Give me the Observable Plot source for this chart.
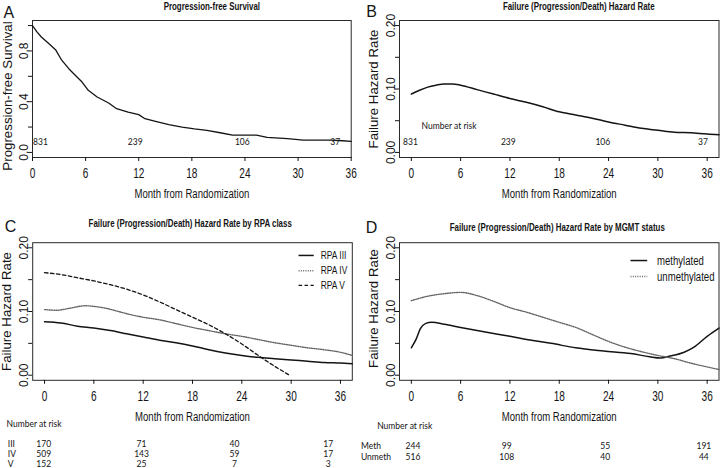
<!DOCTYPE html>
<html><head><meta charset="utf-8">
<script src="https://cdn.jsdelivr.net/npm/d3@7"></script>
<script src="https://cdn.jsdelivr.net/npm/@observablehq/plot@0.6"></script>
<style>
body{margin:0;background:#fff;}
#chart{position:relative;width:720px;height:468px;overflow:hidden;background:#fff;color:#111;}
</style></head><body><div id="chart"></div><script>
// ---------- DATA ----------
const monthTicks = [0, 6, 12, 18, 24, 30, 36];
const survTicks = [0, 0.2, 0.4, 0.6, 0.8, 1.0];
const survTickLabels = ["0.0", "", "0.4", "", "0.8", ""];
const hazTicks = [0, 0.05, 0.10, 0.15, 0.20];
const hazTickLabels = ["0.00", "", "0.10", "", "0.20"];

// Panel A: progression-free survival
const pfsMonth = [0,0.5,1,1.8,2.6,3.3,4.1,4.8,5.6,6.3,7.3,8.6,9.5,10.8,12,12.7,13.9,15.4,16.9,18.3,19.7,21.2,22.6,25.3,26.5,28.8,30.6,33.7,35,36];
const pfsSurv  = [1,0.95,0.91,0.86,0.81,0.727,0.66,0.61,0.555,0.49,0.437,0.39,0.345,0.318,0.298,0.266,0.245,0.219,0.2,0.185,0.174,0.155,0.136,0.136,0.118,0.108,0.097,0.097,0.092,0.087];

// Panel B: overall failure hazard
const hazMonth = [0,1,2,3,4,5,6,8,10,12,14,16,18,20,22,24,26,28,30,32,34,36,37.44];
const hazAll   = [0.092,0.098,0.103,0.106,0.108,0.108,0.106,0.099,0.092,0.085,0.079,0.072,0.064,0.059,0.054,0.048,0.043,0.038,0.035,0.032,0.031,0.029,0.028];

// Panel C: hazard by RPA class
const rpa3Month = [0,2,4,6,8,10,12,14,16,18,20,22,24,26,28,30,32,34,36,37.44];
const rpa3Haz   = [0.084,0.082,0.077,0.074,0.070,0.065,0.060,0.055,0.051,0.046,0.040,0.035,0.031,0.028,0.026,0.024,0.022,0.020,0.019,0.018];
const rpa4Month = [0,1.5,3,5,6,7.5,9,10.5,12,14,16,18,20,22,24,26,28,30,32,34,36,37.44];
const rpa4Haz   = [0.103,0.102,0.105,0.109,0.108,0.105,0.100,0.095,0.091,0.087,0.081,0.075,0.070,0.065,0.061,0.056,0.051,0.047,0.043,0.040,0.036,0.031];
const rpa5Month = [0,2,4,6,8,10,12,14,16,18,20,22,24,26,28,29.8];
const rpa5Haz   = [0.161,0.158,0.153,0.148,0.142,0.135,0.126,0.115,0.103,0.091,0.079,0.065,0.049,0.031,0.014,0];
const rpaNames  = ["RPA III", "RPA IV", "RPA V"];

// Panel D: hazard by MGMT status
const methMonth = [0,0.6,1.1,1.7,2.5,4,6,8.5,12,15,17,20,23.4,26.7,29,30.3,31.5,33.2,34.4,36,37.44];
const methHaz   = [0.043,0.057,0.073,0.081,0.083,0.080,0.075,0.069,0.061,0.054,0.050,0.043,0.038,0.034,0.029,0.027,0.030,0.036,0.044,0.061,0.074];
const unmethMonth = [0,2,4,6,8,10,12,14,16,18,20,22,24,26,28,30,32,34,36,37.44];
const unmethHaz   = [0.117,0.124,0.128,0.130,0.125,0.116,0.106,0.099,0.091,0.083,0.075,0.064,0.053,0.044,0.037,0.031,0.026,0.019,0.013,0.009];
const mgmtNames = ["methylated", "unmethylated"];

// Number at risk
const riskAll   = ["831", "239", "106", "37"];
const riskRPA3  = ["170", "71", "40", "17"];
const riskRPA4  = ["509", "143", "59", "17"];
const riskRPA5  = ["152", "25", "7", "3"];
const riskMeth  = ["244", "99", "55", "191"];
const riskUnmeth= ["516", "108", "40", "44"];
const riskRowsRPA = ["III", "IV", "V"];
const riskRowsMGMT = ["Meth", "Unmeth"];

// ---------- LAYOUT (positions only) ----------
const riskColA = [0.9, 11.6, 23.7, 34.2];
const riskColB = [-0.1, 11.8, 23.3, 35.5];
const riskColC = [-0.1, 11.8, 23.1, 34.5];
const riskColD = [0.2, 11.6, 23.6, 35.6];
const rowDyC = [63.5, 73.5, 83.5];
const rowDyD = [65.9, 76.9];

const NARROW = "'Liberation Sans Narrow','Liberation Sans',Arial,sans-serif";
const NARROW_RATIO = 0.72;
const SANS = "'Liberation Sans',Arial,sans-serif";
const RISK = "Lato,'Open Sans',sans-serif";
const INK = "#141414";

const chart = document.getElementById("chart");
const zip = (xs, ys) => xs.map((x, i) => ({x, y: ys[i]}));

// condensed look: squeeze horizontally the texts set in the "narrow" family
function narrowTexts(svg) {
  svg.querySelectorAll('g[font-family*="Narrow"] text').forEach(t => {
    const tr = t.getAttribute("transform") || "";
    t.setAttribute("transform", `${tr} scale(${NARROW_RATIO},1)`);
  });
}

function panel(cfg) {
  const marks = [
    Plot.frame({stroke: "#2a2a2a", strokeWidth: 1}),
    Plot.axisX({ticks: monthTicks, tickSize: 4, tickPadding: 7, fontFamily: NARROW, fontSize: 14, label: null, stroke: INK}),
    Plot.axisY({ticks: cfg.yTicks, tickSize: 4, tickPadding: 1, tickRotate: -90,
      tickFormat: d => cfg.yTickLabels[cfg.yTicks.indexOf(d)],
      fontFamily: SANS, fontSize: 12, label: null, stroke: INK}),
    Plot.text(["Month from Randomization"], {text: d => d, frameAnchor: "bottom", dy: 36.5, lineAnchor: "middle", fontFamily: NARROW, fontSize: 13.3, fill: INK}),
    Plot.text([cfg.yTitle], {text: d => d, frameAnchor: "left", dx: cfg.yTitleDx, dy: cfg.yTitleDy, rotate: -90, lineAnchor: "middle", textAnchor: "middle", fontFamily: SANS, fontSize: 13.3, fill: INK}),
    Plot.text([cfg.title], {text: d => d, frameAnchor: "top", dx: cfg.titleDx, dy: cfg.titleDy, lineAnchor: "middle", fontFamily: NARROW, fontWeight: "bold", fontSize: 11, fill: INK}),
    Plot.text([cfg.letter], {text: d => d, frameAnchor: "top-left", dx: cfg.letterDx, dy: cfg.letterDy, lineAnchor: "middle", textAnchor: "middle", fontFamily: SANS, fontSize: 16, fill: INK}),
    ...cfg.marks
  ];
  const svg = Plot.plot({
    width: cfg.width, height: cfg.height,
    marginLeft: cfg.ml, marginRight: cfg.mr, marginTop: cfg.mt, marginBottom: cfg.mb,
    x: {domain: cfg.xDomain},
    y: {domain: cfg.yDomain},
    style: {background: "transparent", overflow: "visible", fontFamily: SANS, color: INK},
    marks
  });
  svg.style.position = "absolute";
  svg.style.left = cfg.left + "px";
  svg.style.top = cfg.top + "px";
  chart.appendChild(svg);
  narrowTexts(svg);
}

const solid = {stroke: INK, strokeWidth: 1.5};
const dotted = {stroke: "#666", strokeWidth: 1.4, strokeDasharray: "1,1.3"};
const dashed = {stroke: INK, strokeWidth: 1.3, strokeDasharray: "3.5,2.5"};
const riskStyle = {lineAnchor: "middle", fontFamily: RISK, fontSize: 8.5, fill: INK};

function riskRow(labels, cols, dy) {
  return Plot.text(labels.map((t, i) => ({t, x: cols[i]})), {x: "x", text: "t", frameAnchor: "bottom", dy, ...riskStyle});
}
function rowLabel(label, dx, dy) {
  return Plot.text([label], {text: d => d, frameAnchor: "bottom-left", dx, dy, textAnchor: "start", ...riskStyle});
}

// Panel A
panel({
  left: 0, top: 0, width: 360, height: 212, ml: 32, mr: 9.3, mt: 20, mb: 55,
  xDomain: [0, 36], yDomain: [-0.04, 1.04],
  yTicks: survTicks, yTickLabels: survTickLabels,
  yTitle: "Progression-free Survival", yTitleDx: -24.5, yTitleDy: 7,
  title: "Progression-free Survival", titleDx: 20, titleDy: -14.3,
  letter: "A", letterDx: -23.7, letterDy: -7.5,
  marks: [
    Plot.line(zip(pfsMonth, pfsSurv), {x: "x", y: "y", ...solid, strokeWidth: 1.3}),
    Plot.text(riskAll.map((t, i) => ({t, x: riskColA[i]})), {x: "x", y: () => 0.08, text: "t", ...riskStyle})
  ]
});

// Panel B
panel({
  left: 360, top: 0, width: 360, height: 212, ml: 39, mr: 1.5, mt: 20, mb: 55,
  xDomain: [-1.44, 37.44], yDomain: [-0.008, 0.208],
  yTicks: hazTicks, yTickLabels: hazTickLabels,
  yTitle: "Failure Hazard Rate", yTitleDx: -26, yTitleDy: 0,
  title: "Failure (Progression/Death) Hazard Rate", titleDx: 19.5, titleDy: -14.3,
  letter: "B", letterDx: -28, letterDy: -8.7,
  marks: [
    Plot.line(zip(hazMonth, hazAll), {x: "x", y: "y", curve: "monotone-x", ...solid}),
    Plot.text(["Number at risk"], {text: d => d, x: () => 1.25, y: () => 0.041, textAnchor: "start", ...riskStyle}),
    Plot.text(riskAll.map((t, i) => ({t, x: riskColB[i]})), {x: "x", y: () => 0.016, text: "t", ...riskStyle})
  ]
});

// Panel C
panel({
  left: 0, top: 212, width: 360, height: 256, ml: 32.2, mr: 8.2, mt: 30.2, mb: 88.2,
  xDomain: [-1.44, 37.44], yDomain: [-0.008, 0.208],
  yTicks: hazTicks, yTickLabels: hazTickLabels,
  yTitle: "Failure Hazard Rate", yTitleDx: -25.5, yTitleDy: 0,
  title: "Failure (Progression/Death) Hazard Rate by RPA class", titleDx: -2.3, titleDy: -19.5,
  letter: "C", letterDx: -22.2, letterDy: -15.7,
  marks: [
    Plot.line(zip(rpa3Month, rpa3Haz), {x: "x", y: "y", curve: "monotone-x", ...solid}),
    Plot.line(zip(rpa4Month, rpa4Haz), {x: "x", y: "y", curve: "monotone-x", ...dotted}),
    Plot.line(zip(rpa5Month, rpa5Haz), {x: "x", y: "y", curve: "monotone-x", ...dashed}),
    // legend
    Plot.link([{y: 0.188}], {x1: () => 30.9, x2: () => 32.75, y1: "y", y2: "y", ...solid}),
    Plot.link([{y: 0.164}], {x1: () => 30.9, x2: () => 32.75, y1: "y", y2: "y", ...dotted}),
    Plot.link([{y: 0.141}], {x1: () => 30.9, x2: () => 32.75, y1: "y", y2: "y", ...dashed}),
    Plot.text(rpaNames.map((t, i) => ({t, y: [0.188, 0.164, 0.141][i]})), {x: () => 33.6, y: "y", text: "t", textAnchor: "start", lineAnchor: "middle", fontFamily: NARROW, fontSize: 11.7, fill: INK}),
    // number at risk
    rowLabel("Number at risk", -26.2, 43.5),
    ...riskRowsRPA.map((r, i) => rowLabel(r, -24.9, rowDyC[i])),
    riskRow(riskRPA3, riskColC, rowDyC[0]),
    riskRow(riskRPA4, riskColC, rowDyC[1]),
    riskRow(riskRPA5, riskColC, rowDyC[2])
  ]
});

// Panel D
panel({
  left: 360, top: 212, width: 360, height: 256, ml: 39, mr: 1.5, mt: 30.2, mb: 88.2,
  xDomain: [-1.44, 37.44], yDomain: [-0.008, 0.208],
  yTicks: hazTicks, yTickLabels: hazTickLabels,
  yTitle: "Failure Hazard Rate", yTitleDx: -26, yTitleDy: -3,
  title: "Failure (Progression/Death) Hazard Rate by MGMT status", titleDx: -2, titleDy: -15.5,
  letter: "D", letterDx: -28, letterDy: -14.7,
  marks: [
    Plot.line(zip(methMonth, methHaz), {x: "x", y: "y", curve: "monotone-x", ...solid}),
    Plot.line(zip(unmethMonth, unmethHaz), {x: "x", y: "y", curve: "monotone-x", ...dotted}),
    // legend
    Plot.link([{y: 0.180}], {x1: () => 26.67, x2: () => 28.7, y1: "y", y2: "y", ...solid}),
    Plot.link([{y: 0.155}], {x1: () => 26.67, x2: () => 28.7, y1: "y", y2: "y", ...dotted}),
    Plot.text(mgmtNames.map((t, i) => ({t, y: [0.180, 0.155][i]})), {x: () => 29.9, y: "y", text: "t", textAnchor: "start", lineAnchor: "middle", fontFamily: NARROW, fontSize: 13.3, fill: INK}),
    // number at risk
    rowLabel("Number at risk", -22.3, 45.9),
    ...riskRowsMGMT.map((r, i) => rowLabel(r, -38.5, rowDyD[i])),
    riskRow(riskMeth, riskColD, rowDyD[0]),
    riskRow(riskUnmeth, riskColD, rowDyD[1])
  ]
});
</script></body></html>
